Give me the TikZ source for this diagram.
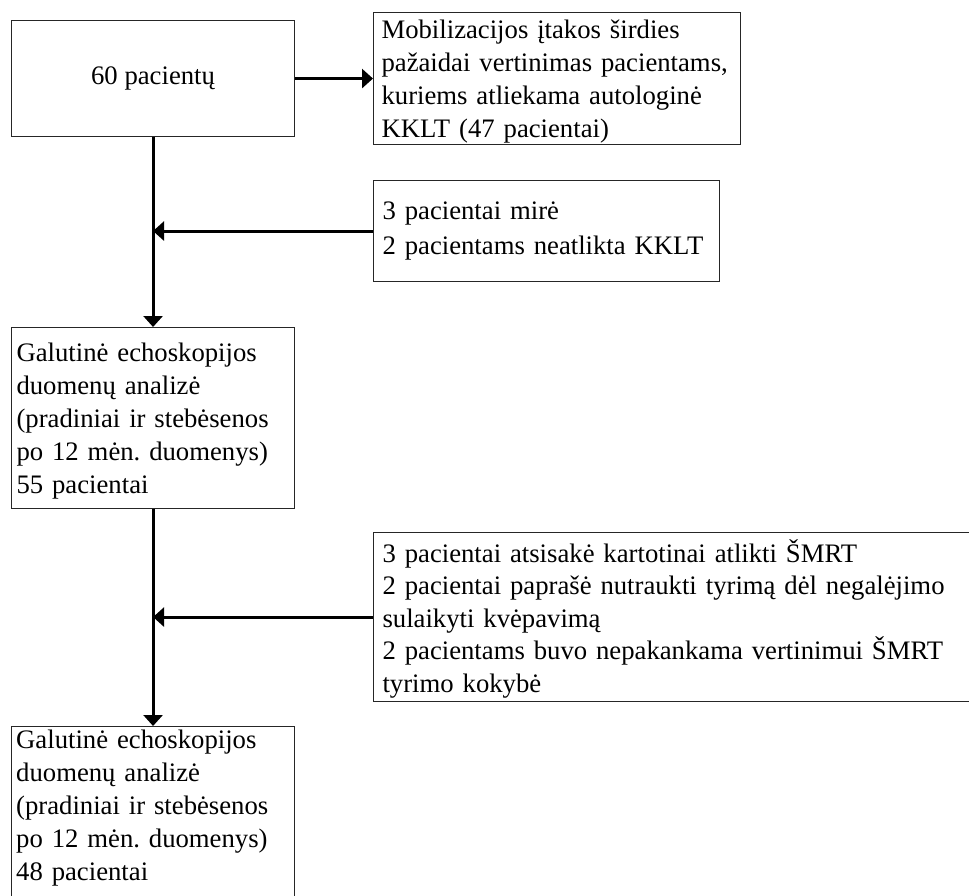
\documentclass[tikz,border=0pt]{standalone}
\usepackage{fontspec}
\setmainfont{Liberation Serif}
\usetikzlibrary{arrows.meta}
\frenchspacing
\begin{document}
\begin{tikzpicture}[x=1pt,y=-1pt,
  box/.style={draw=black!85, line width=1.1pt, rectangle, anchor=north west,
    inner ysep=0pt, align=left, font=\fontsize{26.7}{33}\selectfont\frenchspacing},
  conn/.style={line width=3pt, -{Triangle[length=11pt,width=19pt]}}]
\useasboundingbox (0,0) rectangle (969,895);
\clip (0,0) rectangle (969,895);

\node[box, minimum width=283pt, minimum height=116pt, align=center, inner xsep=0pt] (b1) at (11,20) {60 pacientų};

\node[box, inner xsep=8pt, text width=351pt, minimum height=132pt] (b2) at (373,12)
 {\rule{0pt}{24pt}Mobilizacijos įtakos širdies\\pažaidai vertinimas pacientams,\\kuriems atliekama autologinė\\KKLT (47 pacientai)};

\node[box, inner xsep=9pt, text width=328pt, minimum height=101pt, font=\fontsize{26.7}{35}\selectfont\frenchspacing] (b3) at (373,180)
 {3 pacientai mirė\\2 pacientams neatlikta KKLT};

\node[box, inner xsep=5pt, text width=273pt, minimum height=181pt] (b4) at (11,327)
 {\rule{0pt}{24pt}Galutinė echoskopijos\\duomenų analizė\\(pradiniai ir stebėsenos\\po 12 mėn. duomenys)\\55 pacientai};

\node[box, inner xsep=9pt, text width=602pt, minimum height=169pt, font=\fontsize{26.7}{32.5}\selectfont\frenchspacing] (b5) at (373,532)
 {\rule{0pt}{26pt}3 pacientai atsisakė kartotinai atlikti ŠMRT\\2 pacientai paprašė nutraukti tyrimą dėl negalėjimo\\sulaikyti kvėpavimą\\2 pacientams buvo nepakankama vertinimui ŠMRT\\tyrimo kokybė};

\node[box, minimum width=283pt, minimum height=200pt, inner xsep=0pt] (b6) at (11,726) {};
\node[anchor=north west, inner sep=0pt, align=left, text width=273pt, font=\fontsize{26.7}{33}\selectfont\frenchspacing] (t6) at (16,730)
 {Galutinė echoskopijos\\duomenų analizė\\(pradiniai ir stebėsenos\\po 12 mėn. duomenys)\\48 pacientai};

\coordinate (j1) at (b3.west -| b1.south);
\coordinate (j2) at (b5.west -| b4.south);

\draw[conn] (b1.east) -- (b2.west |- b1.east);
\draw[conn] (b1.south) -- (b4.north);
\draw[conn] (b3.west) -- (j1);
\draw[conn] (b4.south) -- (b6.north);
\draw[conn] (b5.west) -- (j2);
\end{tikzpicture}
\end{document}
